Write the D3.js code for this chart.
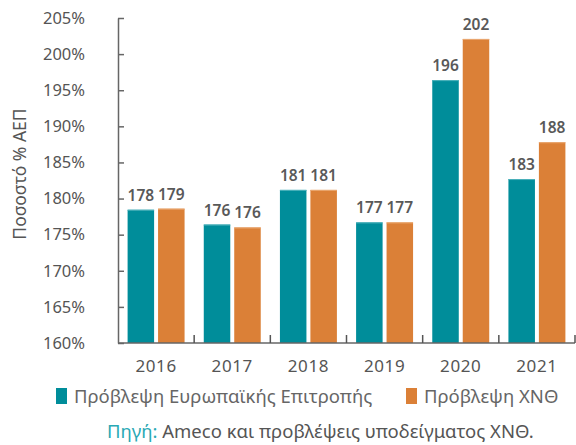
<!DOCTYPE html>
<html><head><meta charset="utf-8">
<script src="https://cdn.jsdelivr.net/npm/d3@7"></script>
<style>
body{margin:0;background:#fff;}
text{font-family:"Noto Sans",sans-serif;}
</style></head>
<body><svg id="c" width="576" height="445"></svg>
<script>
const categories = ["2016","2017","2018","2019","2020","2021"];
const seriesNames = ["Πρόβλεψη Ευρωπαϊκής Επιτροπής","Πρόβλεψη ΧΝΘ"];
const ecForecast = [178.45, 176.4, 181.2, 176.7, 196.4, 182.7];
const hfscForecast = [178.6, 176.0, 181.2, 176.7, 202.1, 187.8];
const yTicks = [160,165,170,175,180,185,190,195,200,205];
const yTitle = "Ποσοστό % ΑΕΠ";
const sourceLabel = "Πηγή:";
const sourceText = " Ameco και προβλέψεις υποδείγματος ΧΝΘ.";

const colors = ["#008d9a","#db8037"];
const topColors = ["#4fb3bc","#eaa872"];
const series = [ecForecast, hfscForecast];

const svg = d3.select("#c");
const x0 = d3.scaleBand().domain(categories).range([118,575]).padding(0);
const x1 = d3.scaleBand().domain([0,1]).range([0,x0.bandwidth()]).paddingInner(0.13).paddingOuter(0.315);
const y = d3.scaleLinear().domain([160,205]).range([343,18]);

// bars
const g = svg.append("g");
categories.forEach((c,i)=>{
  series.forEach((s,k)=>{
    const bx = x0(c)+x1(k), by = y(s[i]), bw = x1.bandwidth();
    g.append("rect").attr("x",bx).attr("y",by).attr("width",bw).attr("height",y(160)-by).attr("fill",colors[k]);
    g.append("rect").attr("x",bx).attr("y",by).attr("width",bw).attr("height",1).attr("fill",topColors[k]);
    g.append("text").attr("x",bx+bw/2).attr("y",by-9).attr("text-anchor","middle")
      .attr("font-size",15.5).attr("font-weight",600).attr("fill","#595959")
      .text(d3.format(".0f")(s[i]));
  });
});

// y axis
const yAxis = d3.axisLeft(y).tickValues(yTicks).tickFormat(d=>d+"%").tickSizeInner(-6).tickSizeOuter(0).tickPadding(33);
const ya = svg.append("g").attr("transform","translate(118,0)").call(yAxis);
ya.select(".domain").attr("stroke","#666").attr("stroke-width",1.5);
ya.selectAll(".tick line").attr("stroke","#666").attr("stroke-width",1.5);
ya.selectAll(".tick text").attr("font-size",16.5).attr("fill","#555").attr("font-family","Noto Sans");

// x axis
const xa = svg.append("g");
xa.append("line").attr("x1",118).attr("x2",575).attr("y1",y(160)).attr("y2",y(160)).attr("stroke","#666").attr("stroke-width",1.5);
categories.forEach(c=>{
  const xe = x0(c)+x0.bandwidth();
  xa.append("line").attr("x1",xe).attr("x2",xe).attr("y1",y(160)).attr("y2",y(160)-8).attr("stroke","#555").attr("stroke-width",1.5);
  xa.append("text").attr("x",x0(c)+x0.bandwidth()/2).attr("y",372).attr("text-anchor","middle")
    .attr("font-size",17).attr("letter-spacing",0.6).attr("fill","#555").text(c);
});

// y title
svg.append("text").attr("transform","translate(26,174) rotate(-90)").attr("text-anchor","middle")
  .attr("font-size",17.5).attr("fill","#555").text(yTitle);

// legend
const legX = [56,406];
seriesNames.forEach((n,k)=>{
  svg.append("rect").attr("x",legX[k]).attr("y",388).attr("width",11).attr("height",16).attr("fill",colors[k]);
  svg.append("text").attr("x",legX[k]+18).attr("y",403).attr("font-size",18.5).attr("fill","#666").text(n);
});

// source
const st = svg.append("text").attr("x",107).attr("y",438).attr("font-size",18.5).attr("fill","#555");
st.append("tspan").attr("fill","#2aa9b5").text(sourceLabel);
st.append("tspan").text(sourceText);
</script></body></html>
